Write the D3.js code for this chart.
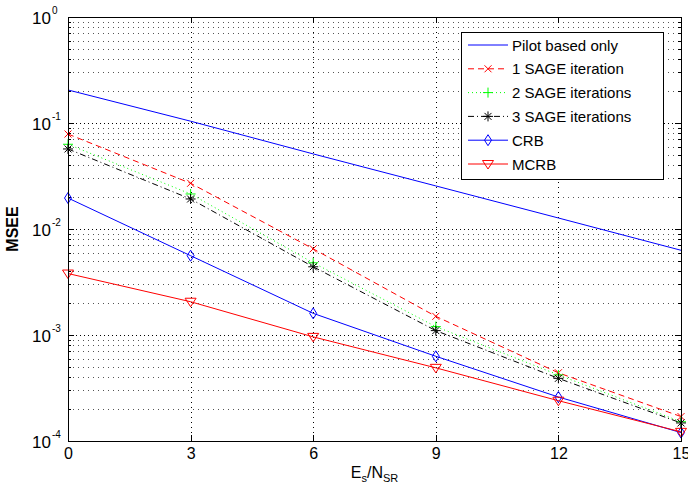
<!DOCTYPE html>
<html>
<head>
<meta charset="utf-8">
<script src="https://cdnjs.cloudflare.com/ajax/libs/d3/7.8.5/d3.min.js"></script>
<style>
  body { margin: 0; background: #fff; }
  text { font-family: Arial, "Liberation Sans", sans-serif; }
</style>
</head>
<body>
<div class="container"></div>
<script>
// data
var snr = [0, 3, 6, 9, 12, 15]
var pilotOnly = [0.205, 0.104, 0.0511, 0.0255, 0.0127, 0.0063]
var sage1 = [0.0787, 0.027, 0.0065, 0.0015, 0.00044, 0.00017]
var sage2 = [0.063, 0.0214, 0.0048, 0.0012, 0.00042, 0.000152]
var sage3 = [0.0569, 0.0192, 0.0044, 0.0011, 0.00039, 0.000148]
var crb = [0.0196, 0.0056, 0.0016, 0.00063, 0.00026, 0.00012]
var mcrb = [0.0038, 0.00206, 0.00096, 0.00049, 0.00024, 0.000122]
var xTicks = [0, 3, 6, 9, 12, 15]
var yDecades = [-4, -3, -2, -1, 0]
var legendNames = ['Pilot based only', '1 SAGE iteration', '2 SAGE iterations', '3 SAGE iterations', 'CRB', 'MCRB']

var chart = {
  width: 688,
  height: 489,
  left: 68,
  right: 681,
  top: 17,
  bottom: 441
}

var series = [
  {name: legendNames[0], values: pilotOnly, color: '#0000ff', dash: null, marker: null},
  {name: legendNames[1], values: sage1, color: '#ff0000', dash: '6,4', marker: 'x'},
  {name: legendNames[2], values: sage2, color: '#00ff00', dash: '1,3', marker: 'plus'},
  {name: legendNames[3], values: sage3, color: '#000000', dash: '6,3,1,3', marker: 'star'},
  {name: legendNames[4], values: crb, color: '#0000ff', dash: null, marker: 'diamond'},
  {name: legendNames[5], values: mcrb, color: '#ff0000', dash: null, marker: 'tri'}
]

var svg = d3.select('.container').append('svg')
  .attr('width', chart.width)
  .attr('height', chart.height)

var x = d3.scaleLinear().domain([0, 15]).range([chart.left, chart.right])
var y = d3.scaleLog().domain([1e-4, 1]).range([chart.bottom, chart.top])

// grid: minor (2..9 per decade) and major
var minorVals = []
yDecades.slice(0, 4).forEach(function (e) {
  for (var k = 2; k <= 9; k++) minorVals.push(k * Math.pow(10, e))
})
var grid = svg.append('g')
grid.selectAll('.minor').data(minorVals).enter().append('line')
  .attr('x1', chart.left).attr('x2', chart.right)
  .attr('y1', function (d) { return Math.round(y(d)) + 0.5 })
  .attr('y2', function (d) { return Math.round(y(d)) + 0.5 })
  .attr('stroke', '#555').attr('stroke-width', 1).attr('stroke-dasharray', '1,4')
grid.selectAll('.majory').data(yDecades.slice(1, 4)).enter().append('line')
  .attr('x1', chart.left).attr('x2', chart.right)
  .attr('y1', function (d) { return Math.round(y(Math.pow(10, d))) + 0.5 })
  .attr('y2', function (d) { return Math.round(y(Math.pow(10, d))) + 0.5 })
  .attr('stroke', '#000').attr('stroke-width', 1).attr('stroke-dasharray', '1,3')
grid.selectAll('.majorx').data(xTicks.slice(1, 5)).enter().append('line')
  .attr('y1', chart.top).attr('y2', chart.bottom)
  .attr('x1', function (d) { return Math.round(x(d)) + 0.5 })
  .attr('x2', function (d) { return Math.round(x(d)) + 0.5 })
  .attr('stroke', '#000').attr('stroke-width', 1).attr('stroke-dasharray', '1,4')

// ticks inside the box
var ticks = svg.append('g').attr('stroke', '#000').attr('stroke-width', 1)
minorVals.forEach(function (v) {
  var yy = Math.round(y(v)) + 0.5
  ticks.append('line').attr('x1', chart.left).attr('x2', chart.left + 3).attr('y1', yy).attr('y2', yy)
  ticks.append('line').attr('x1', chart.right - 3).attr('x2', chart.right).attr('y1', yy).attr('y2', yy)
})
yDecades.forEach(function (e) {
  var yy = Math.round(y(Math.pow(10, e))) + 0.5
  ticks.append('line').attr('x1', chart.left).attr('x2', chart.left + 6).attr('y1', yy).attr('y2', yy)
  ticks.append('line').attr('x1', chart.right - 6).attr('x2', chart.right).attr('y1', yy).attr('y2', yy)
})
xTicks.forEach(function (t) {
  var xx = Math.round(x(t)) + 0.5
  ticks.append('line').attr('x1', xx).attr('x2', xx).attr('y1', chart.bottom).attr('y2', chart.bottom - 6)
  ticks.append('line').attr('x1', xx).attr('x2', xx).attr('y1', chart.top).attr('y2', chart.top + 6)
})

// series lines
var line = d3.line()
  .x(function (d) { return x(d[0]) })
  .y(function (d) { return y(d[1]) })

var markerPath = function (type, cx, cy) {
  if (type === 'x') return 'M' + (cx - 3.5) + ',' + (cy - 3.5) + 'L' + (cx + 3.5) + ',' + (cy + 3.5) + 'M' + (cx - 3.5) + ',' + (cy + 3.5) + 'L' + (cx + 3.5) + ',' + (cy - 3.5)
  if (type === 'plus') return 'M' + (cx - 5) + ',' + cy + 'L' + (cx + 5) + ',' + cy + 'M' + cx + ',' + (cy - 5) + 'L' + cx + ',' + (cy + 5)
  if (type === 'star') return 'M' + (cx - 5) + ',' + cy + 'L' + (cx + 5) + ',' + cy + 'M' + cx + ',' + (cy - 5) + 'L' + cx + ',' + (cy + 5) +
    'M' + (cx - 3.5) + ',' + (cy - 3.5) + 'L' + (cx + 3.5) + ',' + (cy + 3.5) + 'M' + (cx - 3.5) + ',' + (cy + 3.5) + 'L' + (cx + 3.5) + ',' + (cy - 3.5)
  if (type === 'diamond') return 'M' + cx + ',' + (cy - 5.5) + 'L' + (cx + 3.5) + ',' + cy + 'L' + cx + ',' + (cy + 5.5) + 'L' + (cx - 3.5) + ',' + cy + 'Z'
  if (type === 'tri') return 'M' + (cx - 5.5) + ',' + (cy - 3.5) + 'L' + (cx + 5.5) + ',' + (cy - 3.5) + 'L' + cx + ',' + (cy + 5) + 'Z'
  return ''
}

var plot = svg.append('g')
series.forEach(function (s) {
  var pts = snr.map(function (v, i) { return [v, s.values[i]] })
  plot.append('path')
    .attr('d', line(pts))
    .attr('fill', 'none')
    .attr('stroke', s.color)
    .attr('stroke-width', 1)
    .attr('stroke-dasharray', s.dash)
  if (s.marker) {
    plot.selectAll(null).data(pts).enter().append('path')
      .attr('d', function (d) { return markerPath(s.marker, x(d[0]), y(d[1])) })
      .attr('fill', 'none')
      .attr('stroke', s.color)
      .attr('stroke-width', 1)
  }
})

// axes box
svg.append('rect')
  .attr('x', chart.left + 0.5).attr('y', chart.top + 0.5)
  .attr('width', chart.right - chart.left).attr('height', chart.bottom - chart.top)
  .attr('fill', 'none').attr('stroke', '#000').attr('stroke-width', 1)

// x tick labels via d3 axis
var xAxis = svg.append('g')
  .attr('transform', 'translate(0,' + chart.bottom + ')')
  .call(d3.axisBottom(x).tickValues(xTicks).tickSize(0).tickPadding(7).tickFormat(d3.format('d')))
xAxis.select('.domain').remove()
xAxis.selectAll('text').attr('font-size', 16).attr('fill', '#000').style('font-family', 'Arial, "Liberation Sans", sans-serif')

// y tick labels 10^e
var yLab = svg.append('g')
yDecades.forEach(function (e) {
  var yy = y(Math.pow(10, e))
  yLab.append('text').attr('x', 51).attr('y', yy + 7).attr('text-anchor', 'end').attr('font-size', 17).text('10')
  yLab.append('text').attr('x', 52).attr('y', yy - 3).attr('font-size', 10).text(String(e))
})

// axis titles
svg.append('text')
  .attr('transform', 'translate(18,' + ((chart.top + chart.bottom) / 2) + ') rotate(-90)')
  .attr('text-anchor', 'middle')
  .attr('font-size', 16).attr('font-weight', 'bold')
  .text('MSEE')

var xt = svg.append('text')
  .attr('x', x(7.5)).attr('y', 478)
  .attr('text-anchor', 'middle')
  .attr('font-size', 16)
xt.append('tspan').text('E')
xt.append('tspan').attr('font-size', 11).attr('dy', 4).text('s')
xt.append('tspan').attr('dy', -4).text('/N')
xt.append('tspan').attr('font-size', 11).attr('dy', 4).text('SR')

// legend
var legend = svg.append('g')
legend.append('rect')
  .attr('x', 461.5).attr('y', 32.5).attr('width', 202).attr('height', 147)
  .attr('fill', '#fff').attr('stroke', '#000').attr('stroke-width', 1)
series.forEach(function (s, i) {
  var ly = 45 + i * 23.8
  legend.append('line')
    .attr('x1', 468).attr('x2', 508).attr('y1', ly).attr('y2', ly)
    .attr('stroke', s.color).attr('stroke-width', 1).attr('stroke-dasharray', s.dash)
  if (s.marker) {
    legend.append('path').attr('d', markerPath(s.marker, 488, ly))
      .attr('fill', 'none').attr('stroke', s.color).attr('stroke-width', 1)
  }
  legend.append('text').attr('x', 512).attr('y', ly + 5.5).attr('font-size', 15).text(s.name)
})
</script>
</body>
</html>
